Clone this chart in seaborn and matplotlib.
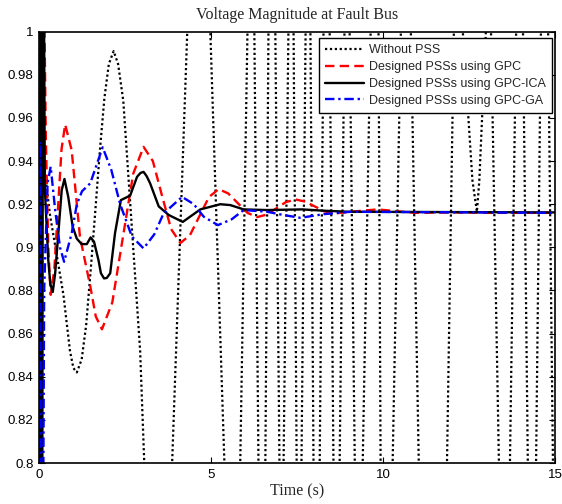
import numpy as np
import pandas as pd
import matplotlib
matplotlib.use("Agg")
import matplotlib.pyplot as plt
import seaborn as sns

# ---------------- data ----------------
t_nopss = [0, 0.02, 0.05, 0.11, 0.32, 0.71, 0.9, 1.0, 1.1, 1.24, 1.37, 1.5, 1.635, 1.77, 1.9, 2.03, 2.17,
           2.3, 2.45, 2.7, 2.94, 3.06, 3.47, 3.87, 4.31, 4.65, 4.98, 5.39, 5.62, 5.85, 6.06,
           6.16, 6.26, 6.38, 6.48, 6.58, 6.67, 6.77, 6.87, 6.99, 7.05, 7.11, 7.25, 7.33,
           7.40, 7.49, 7.56, 7.63, 7.75, 7.82, 7.89, 7.98, 8.07, 8.16, 8.27, 8.36, 8.45,
           8.56, 8.65, 8.74, 8.88, 8.96, 9.03, 9.18, 9.30, 9.41, 9.64, 9.76, 9.87, 9.93,
           10.1, 10.28, 10.52, 10.66, 10.81, 11.04, 11.45, 11.86, 12.06, 12.19, 12.32,
           12.6, 12.73, 12.8, 12.99, 13.06, 13.14, 13.37, 13.53, 13.69, 13.87, 13.97,
           14.07, 14.21, 14.33, 14.45, 14.59, 14.70, 14.80, 14.94, 15.0]
v_nopss = [0.916, 0.75, 1.10, 0.943, 0.915, 0.878, 0.852, 0.844, 0.842, 0.848, 0.8638, 0.889, 0.9165, 0.945, 0.969, 0.985, 0.991,
           0.985, 0.968, 0.909, 0.852, 0.80, 0.70, 0.80, 1.00, 1.10, 1.00, 0.80, 0.70, 0.80, 1.00,
           1.10, 1.00, 0.80, 0.70, 0.80, 1.00, 1.10, 1.00, 0.80, 0.70, 0.80, 1.00, 1.10,
           1.00, 0.80, 0.70, 0.80, 1.00, 1.10, 1.00, 0.80, 0.70, 0.80, 1.00, 1.10, 1.00,
           0.80, 0.70, 0.80, 1.00, 1.10, 1.00, 0.80, 0.70, 0.80, 1.00, 1.10, 1.00, 0.80,
           0.70, 0.80, 1.00, 1.10, 1.00, 0.80, 0.70, 0.80, 1.00, 1.10, 1.00,
           0.931, 0.9165, 0.931, 1.00, 1.10, 1.00, 0.80, 0.70, 0.80, 1.00, 1.10,
           1.00, 0.80, 0.70, 0.80, 1.00, 1.10, 1.00, 0.80, 0.75]

t_gpc = [0, 0.01, 0.05, 0.12, 0.16, 0.2, 0.27, 0.34, 0.445, 0.55, 0.655, 0.76, 0.95, 1.19,
         1.49, 1.65, 1.83, 2.13, 2.435, 2.74, 3.04, 3.31, 3.575, 3.84, 4.11, 4.39, 4.665,
         4.94, 5.22, 5.5, 5.78, 6.06, 6.34, 6.62, 6.9, 7.18, 7.46, 7.74, 8.015, 8.29,
         8.57, 9.2, 9.84, 10.37, 10.9, 12.0, 13.0, 15.0]
v_gpc = [0.916, 0.70, 0.70, 1.10, 1.00, 0.95, 0.90, 0.878, 0.8895, 0.9175, 0.9455, 0.957, 0.945, 0.905,
         0.882, 0.868, 0.862, 0.8744, 0.9043, 0.9342, 0.9466, 0.940, 0.924, 0.9085, 0.902, 0.9057, 0.9145,
         0.9233, 0.927, 0.925, 0.9205, 0.916, 0.914, 0.9152, 0.9181, 0.921, 0.9222, 0.9212, 0.919, 0.9167,
         0.9157, 0.9167, 0.9176, 0.9168, 0.916, 0.9162, 0.916, 0.916]

t_ica = [0, 0.02, 0.05, 0.09, 0.12, 0.17, 0.27, 0.33, 0.40, 0.47, 0.56, 0.66, 0.74, 0.85, 0.98, 1.1, 1.24,
         1.39, 1.5, 1.60, 1.73, 1.80, 1.89, 1.97, 2.07, 2.21, 2.38, 2.65, 2.85, 2.95, 3.04, 3.13, 3.23, 3.48, 3.77,
         4.18, 4.69, 5.27, 5.56, 5.95, 6.63, 7.65, 8.27, 9.0, 15.0]
v_ica = [0.916, 0.70, 1.10, 0.70, 1.10, 0.927, 0.894, 0.883, 0.8793, 0.888, 0.906, 0.9265, 0.9317, 0.9234, 0.9095, 0.904, 0.9015,
         0.9015, 0.9046, 0.9026, 0.894, 0.888, 0.8856, 0.8858, 0.888, 0.9066, 0.9219, 0.924, 0.9327, 0.9345, 0.935, 0.933, 0.9297, 0.919, 0.915,
         0.9118, 0.9176, 0.920, 0.9196, 0.9176, 0.9173, 0.9176, 0.917, 0.9165, 0.9162]

t_ga = [0, 0.02, 0.05, 0.1, 0.15, 0.25, 0.34, 0.47, 0.61, 0.73, 0.95, 1.10, 1.25, 1.49,
        1.85, 2.1, 2.36, 2.7, 3.04, 3.35, 3.62, 4.16, 4.5, 4.79, 5.2, 5.6, 5.95, 6.63,
        7.1, 7.6, 8.28, 9.06, 15.0]
v_ga = [0.916, 0.949, 0.70, 0.70, 0.88, 0.93, 0.9374, 0.9173, 0.900, 0.8933, 0.9065, 0.920, 0.926, 0.9297,
        0.9464, 0.936, 0.920, 0.905, 0.8995, 0.906, 0.9157, 0.9234, 0.920, 0.9142, 0.9103, 0.913, 0.9173, 0.9165,
        0.915, 0.9137, 0.9154, 0.9165, 0.916]

labels = ["Without PSS", "Designed PSSs using GPC",
          "Designed PSSs using GPC-ICA", "Designed PSSs using GPC-GA"]
x_ticks = [0, 5, 10, 15]
y_ticks = [0.8, 0.82, 0.84, 0.86, 0.88, 0.9, 0.92, 0.94, 0.96, 0.98, 1.0]
y_ticklabels = ["0.8", "0.82", "0.84", "0.86", "0.88", "0.9", "0.92", "0.94", "0.96", "0.98", "1"]

# ---------------- plot ----------------
sns.set_theme(style="white")
plt.rcParams['font.family'] = ['Liberation Sans', 'DejaVu Sans']

fig = plt.figure(figsize=(5.62, 5.04), dpi=100)
ax = fig.add_axes([39 / 562, (504 - 463) / 504, 516 / 562, 431.3 / 504])

series = [
    (t_nopss, v_nopss, labels[0], dict(color="black", linestyle=(0, (1, 1.2)), linewidth=1.6)),
    (t_gpc, v_gpc, labels[1], dict(color="#ff0000", linestyle=(0, (4, 2.2)), linewidth=1.7)),
    (t_ica, v_ica, labels[2], dict(color="black", linestyle="-", linewidth=1.7)),
    (t_ga, v_ga, labels[3], dict(color="#0000ff", linestyle=(0, (4, 1.6, 1, 1.6)), linewidth=1.7)),
]
for t, v, lab, kw in series:
    df = pd.DataFrame({"t": t, "v": v})
    sns.lineplot(data=df, x="t", y="v", ax=ax, label=lab, estimator=None, sort=False, **kw)

ax.set_xlim(0, 15)
ax.set_ylim(0.8, 1.0)
ax.set_xticks(x_ticks)
ax.set_xticklabels([str(x) for x in x_ticks])
ax.set_yticks(y_ticks)
ax.set_yticklabels(y_ticklabels)
ax.tick_params(axis="both", direction="in", length=4.5, width=0.8, labelsize=9.5,
               top=True, right=True, bottom=True, left=True, colors="black", pad=4)
for s in ax.spines.values():
    s.set_color("black")
    s.set_linewidth(1.2)
ax.grid(False)

ax.set_title("Voltage Magnitude at Fault Bus", family=["Liberation Serif"], fontsize=11.5, pad=9)
ax.set_xlabel("Time (s)", family=["Liberation Serif"], fontsize=11.5, labelpad=2)
ax.set_ylabel("")

leg = ax.legend(loc="upper right", bbox_to_anchor=(0.9936, 0.985), borderaxespad=0,
                fancybox=False, frameon=True, edgecolor="black", fontsize=9,
                handlelength=3.1, handletextpad=0.4, labelspacing=0.38, borderpad=0.5)
leg.get_frame().set_linewidth(1.0)
leg.get_frame().set_alpha(1)

fig.savefig("out.png", dpi=100)
